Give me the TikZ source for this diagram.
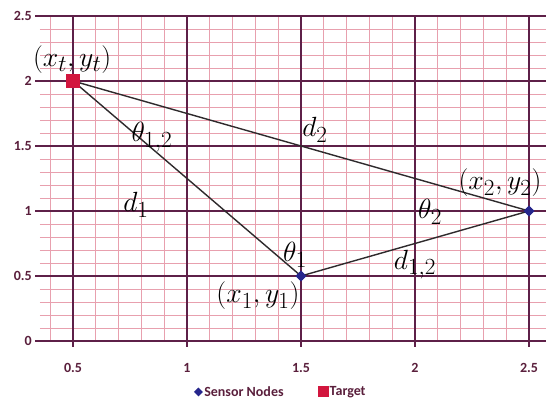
\documentclass[tikz,border=0pt]{standalone}
\usepackage{fontspec}
\newfontfamily\tickfont{Carlito}
\usetikzlibrary{shapes.geometric}
\definecolor{majorc}{HTML}{5E2048}
\definecolor{minorc}{HTML}{E8A0AE}
\definecolor{tickc}{HTML}{5A1F3C}
\definecolor{sensorc}{HTML}{26268C}
\definecolor{targetc}{HTML}{D2163E}
\definecolor{linec}{HTML}{2E2A2C}
\tikzset{
  minorline/.style={minorc, line width=0.7bp},
  majorline/.style={majorc, line width=1.1bp},
  ticklab/.style={text=tickc, font=\tickfont\bfseries\fontsize{14bp}{16bp}\selectfont, inner sep=0pt},
  sensor/.style={diamond, fill=sensorc, minimum width=11bp, minimum height=11bp, inner sep=0pt},
  target/.style={rectangle, fill=targetc, minimum width=14bp, minimum height=14bp, inner sep=0pt},
  edge/.style={linec, line width=1.4bp},
  mlab/.style={font=\fontsize{24.88pt}{28pt}\selectfont, inner sep=0pt, text=black, scale=1.12, transform shape},
  leglab/.style={font=\tickfont\bfseries\fontsize{14bp}{16bp}\selectfont, text=tickc, inner sep=0pt, anchor=west}
}
\begin{document}
\begin{tikzpicture}[x=228bp, y=130bp]
\useasboundingbox[fill=white] (0.1798,-0.4538) rectangle (2.5921,2.623);
% minor grid
\foreach \xx in {0.4,0.6,0.7,0.8,0.9,1.1,1.2,1.3,1.4,1.6,1.7,1.8,1.9,2.1,2.2,2.3,2.4}
  \draw[minorline] (\xx,0) -- (\xx,2.5);
\foreach \yy in {0.1,0.2,0.3,0.4,0.6,0.7,0.8,0.9,1.1,1.2,1.3,1.4,1.6,1.7,1.8,1.9,2.1,2.2,2.3,2.4}
  \draw[minorline] (0.355,\yy) -- (2.575,\yy);
% major grid
\foreach \xx in {0.5,1,1.5,2,2.5}
  \draw[majorline] (\xx,-0.045) -- (\xx,2.5);
\foreach \yy in {0,0.5,1,1.5,2,2.5}
  \draw[majorline] (0.335,\yy) -- (2.575,\yy);
% tick labels
\foreach \xx in {0.5,1,1.5,2,2.5}
  \node[ticklab] at (\xx,-0.21) {\xx};
\foreach \yy in {0,0.5,1,1.5,2,2.5}
  \node[ticklab, anchor=east] at (0.32,\yy) {\yy};
% points
\node[target] (t) at (0.5,2) {};
\node[sensor] (s1) at (1.5,0.5) {};
\node[sensor] (s2) at (2.5,1) {};
% edges
\draw[edge] (t.center) -- (s2.center);
\draw[edge] (t.center) -- (s1.center);
\draw[edge] (s1.center) -- (s2.center);
\node[target] at (0.5,2) {};
\node[sensor] at (1.5,0.5) {};
\node[sensor] at (2.5,1) {};
% labels
\node[mlab] (lt) at (0.496,2.162) {$(x_t,y_t)$};
\node[mlab] (l12) at (0.846,1.569) {$\theta_{1,2}$};
\node[mlab] (ld2) at (1.561,1.623) {$d_2$};
\node[mlab] (ld1) at (0.776,1.046) {$d_1$};
\node[mlab] (lth1) at (1.474,0.662) {$\theta_1$};
\node[mlab] (lp1) at (1.311,0.346) {$(x_1,y_1)$};
\node[mlab] (lth2) at (2.066,0.992) {$\theta_2$};
\node[mlab] (ld12) at (2.0,0.585) {$d_{1,2}$};
\node[mlab] (lp2) at (2.373,1.215) {$(x_2,y_2)$};
% legend
\node[sensor, minimum width=9bp, minimum height=9bp] (legs) at (1.050,-0.392) {};
\node[leglab] (legsl) at (1.075,-0.392) {Sensor Nodes};
\node[target, minimum width=11bp, minimum height=11bp] (legt) at (1.597,-0.392) {};
\node[leglab] (legtl) at (1.625,-0.392) {Target};
\end{tikzpicture}
\end{document}
